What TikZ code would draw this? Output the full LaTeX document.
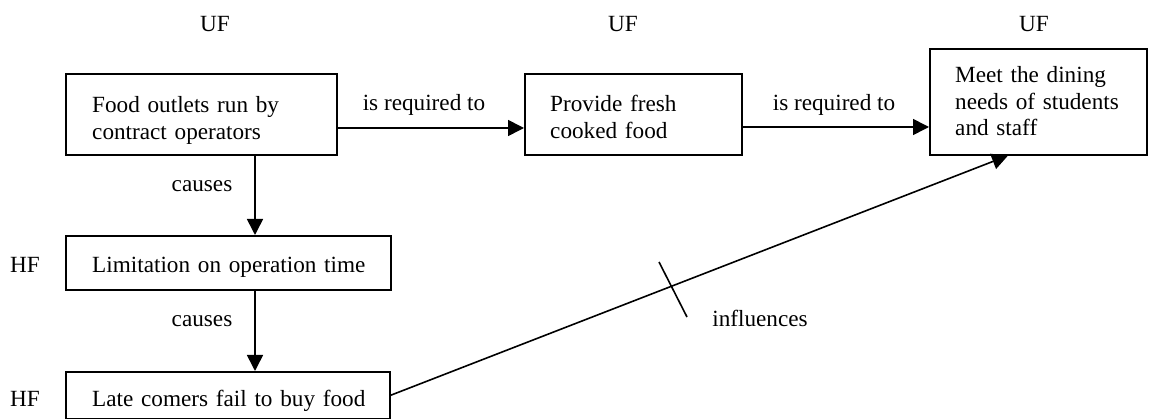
\documentclass[tikz,border=0pt]{standalone}
\usepackage{fontspec}
\setmainfont{Liberation Serif}
\usetikzlibrary{arrows.meta}
\begin{document}
\begin{tikzpicture}[x=1pt,y=-1pt,
  box/.style={draw, line width=1.6pt, anchor=north west, inner sep=0pt},
  txt/.style={anchor=base west, inner sep=0pt, align=left, text width=300pt, font=\fontsize{23.2}{26.5}\selectfont},
  lbl/.style={anchor=base, inner sep=0pt, font=\fontsize{23.2}{26.5}\selectfont},
  arr/.style={line width=1.6pt, -{Triangle[length=16pt,width=16pt]}},
  con/.style={line width=1.6pt}]
\useasboundingbox (0,0) rectangle (1149,419);
% boxes
\node[box, minimum width=271pt, minimum height=81pt] (fo) at (65,73) {};
\node[txt] (fot) at (92,113) {Food outlets run by\\contract operators};
\node[box, minimum width=217pt, minimum height=81pt] (pf) at (524,73) {};
\node[txt] (pft) at (550,112) {Provide fresh\\cooked food};
\node[box, minimum width=217pt, minimum height=106pt] (md) at (929,48) {};
\node[txt] (mdt) at (955,83) {Meet the dining\\needs of students\\and staff};
\node[box, minimum width=325pt, minimum height=54pt] (lo) at (65,235) {};
\node[txt] (lot) at (92,273) {Limitation on operation time};
\node[box, minimum width=324pt, minimum height=47pt] (lc) at (65,371) {};
\node[txt] (lct) at (92,407) {Late comers fail to buy food};
% labels
\node[lbl] (uf1) at (215,32) {UF};
\node[lbl] (uf2) at (623,32) {UF};
\node[lbl] (uf3) at (1034,32) {UF};
\node[lbl, anchor=base west] (hf1) at (10,273) {HF};
\node[lbl, anchor=base west] (hf2) at (10,407) {HF};
\node[lbl] (c1) at (202,192) {causes};
\node[lbl] (c2) at (202,327) {causes};
\node[lbl] (r1) at (424,111) {is required to};
\node[lbl] (r2) at (834,111) {is required to};
\node[lbl] (inf) at (760,327) {influences};
% helper coordinates
\coordinate (y1) at (0,128);
\coordinate (y2) at (0,127);
\coordinate (xa) at (255,0);
\coordinate (xd) at (1008,0);
\coordinate (t1) at (659,262);
\coordinate (t2) at (687,317);
% connectors
\draw[arr] (fo.east |- y1) -- (pf.west |- y1);
\draw[arr] (pf.east |- y2) -- (md.west |- y2);
\draw[arr] (fo.south -| xa) -- (lo.north -| xa);
\draw[arr] (lo.south -| xa) -- (lc.north -| xa);
\draw[arr] (lc.east) -- (md.south -| xd);
\draw[con] (t1) -- (t2);
\end{tikzpicture}
\end{document}
